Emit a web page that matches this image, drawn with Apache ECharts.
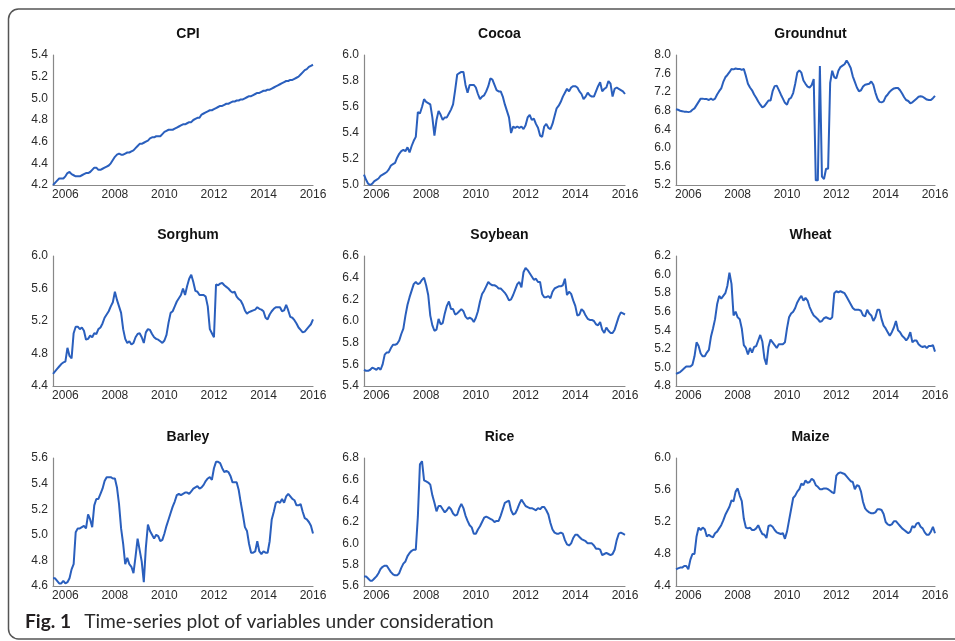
<!DOCTYPE html>
<html>
<head>
<meta charset="utf-8">
<script src="https://cdn.jsdelivr.net/npm/echarts@6/dist/echarts.min.js"></script>
<style>
  html, body { margin: 0; padding: 0; background: #fff; }
  #main { width: 955px; height: 641px; }
</style>
</head>
<body>
<div id="main"></div>
<script>
// monthly, 2005-07 .. 2016-01
var months = [];
for (var y = 2005; y <= 2016; y++) {
  for (var m = 1; m <= 12; m++) {
    if (y === 2005 && m < 7) continue;
    if (y === 2016 && m > 1) break;
    months.push(y + '-' + (m < 10 ? '0' + m : m));
  }
}

var cpi = [4.20,4.22,4.24,4.26,4.26,4.26,
  4.28,4.31,4.32,4.30,4.29,4.28,4.28,4.28,4.29,4.30,4.31,4.31,
  4.32,4.34,4.36,4.36,4.34,4.34,4.35,4.36,4.37,4.38,4.40,4.43,
  4.46,4.48,4.49,4.48,4.48,4.49,4.50,4.50,4.51,4.52,4.54,4.56,
  4.58,4.58,4.59,4.60,4.61,4.63,4.64,4.64,4.65,4.65,4.65,4.67,
  4.69,4.70,4.71,4.71,4.71,4.72,4.73,4.74,4.75,4.76,4.76,4.77,
  4.78,4.78,4.80,4.81,4.82,4.82,4.85,4.86,4.87,4.88,4.89,4.89,
  4.90,4.91,4.92,4.93,4.93,4.94,4.95,4.95,4.96,4.97,4.97,4.98,
  4.98,4.99,4.99,5.00,5.01,5.02,5.02,5.03,5.04,5.05,5.05,5.06,
  5.07,5.07,5.08,5.08,5.09,5.10,5.11,5.12,5.13,5.14,5.15,5.16,
  5.16,5.17,5.17,5.18,5.19,5.20,5.22,5.24,5.26,5.27,5.29,5.30,
  5.31];

var cocoa = [5.08,5.04,5.01,5.00,5.01,5.03,
  5.04,5.05,5.07,5.08,5.09,5.10,5.12,5.15,5.16,5.17,5.21,5.24,
  5.26,5.27,5.26,5.29,5.25,5.30,5.34,5.37,5.56,5.55,5.60,5.66,
  5.64,5.63,5.62,5.52,5.38,5.50,5.57,5.54,5.50,5.52,5.52,5.55,
  5.58,5.62,5.73,5.85,5.86,5.87,5.87,5.77,5.71,5.77,5.77,5.77,
  5.75,5.70,5.66,5.68,5.69,5.72,5.76,5.82,5.81,5.77,5.73,5.72,
  5.72,5.68,5.62,5.57,5.52,5.40,5.45,5.44,5.45,5.44,5.45,5.43,
  5.46,5.52,5.54,5.50,5.51,5.47,5.44,5.38,5.37,5.45,5.47,5.44,
  5.43,5.47,5.53,5.59,5.61,5.64,5.68,5.71,5.74,5.72,5.75,5.76,
  5.76,5.75,5.72,5.70,5.66,5.68,5.71,5.69,5.68,5.68,5.72,5.76,
  5.79,5.72,5.74,5.75,5.80,5.78,5.68,5.74,5.75,5.74,5.73,5.72,
  5.70];

var groundnut = [6.83,6.82,6.80,6.79,6.78,6.78,
  6.77,6.78,6.82,6.85,6.92,6.99,7.06,7.06,7.05,7.05,7.03,7.06,
  7.03,7.06,7.15,7.22,7.28,7.42,7.52,7.57,7.63,7.70,7.69,7.71,
  7.70,7.70,7.68,7.70,7.55,7.38,7.30,7.24,7.15,7.08,7.00,6.93,
  6.87,6.90,6.96,7.02,7.02,7.22,7.33,7.34,7.25,7.15,7.06,6.97,
  6.93,7.05,7.08,7.18,7.38,7.62,7.67,7.62,7.45,7.38,7.32,7.30,
  7.35,7.48,5.30,5.30,7.76,5.38,5.33,5.55,5.55,7.40,7.66,7.52,
  7.50,7.66,7.74,7.77,7.80,7.88,7.81,7.72,7.54,7.42,7.30,7.22,
  7.24,7.32,7.36,7.37,7.38,7.43,7.36,7.19,7.06,6.99,6.98,7.00,
  7.10,7.15,7.21,7.25,7.28,7.29,7.29,7.24,7.17,7.09,7.03,7.01,
  6.96,6.98,7.02,7.06,7.10,7.11,7.10,7.07,7.04,7.03,7.03,7.07,
  7.12];

var sorghum = [4.55,4.58,4.61,4.64,4.67,4.69,
  4.70,4.87,4.77,4.74,5.05,5.13,5.13,5.10,5.12,5.08,4.97,4.98,
  5.02,5.00,5.05,5.04,5.10,5.12,5.17,5.24,5.28,5.32,5.38,5.43,
  5.56,5.46,5.38,5.30,5.10,4.98,4.93,4.95,4.91,4.93,5.00,5.04,
  5.05,5.00,4.93,5.06,5.10,5.09,5.04,5.00,4.98,4.97,4.95,4.93,
  4.96,5.03,5.18,5.30,5.32,5.38,5.44,5.48,5.52,5.60,5.52,5.63,
  5.72,5.77,5.68,5.57,5.56,5.52,5.52,5.52,5.50,5.38,5.10,5.05,
  5.00,5.65,5.64,5.66,5.67,5.64,5.62,5.60,5.57,5.55,5.56,5.50,
  5.47,5.45,5.40,5.33,5.29,5.31,5.32,5.33,5.34,5.37,5.35,5.34,
  5.32,5.24,5.22,5.28,5.32,5.35,5.37,5.37,5.37,5.32,5.33,5.40,
  5.33,5.25,5.24,5.21,5.17,5.12,5.09,5.06,5.07,5.10,5.13,5.16,
  5.22];

var soybean = [5.55,5.54,5.54,5.55,5.57,5.56,
  5.55,5.57,5.55,5.60,5.69,5.71,5.71,5.75,5.78,5.78,5.79,5.82,
  5.88,5.93,6.05,6.15,6.22,6.28,6.34,6.36,6.34,6.35,6.38,6.40,
  6.33,6.24,6.05,5.96,5.91,5.92,6.02,5.97,5.98,6.07,6.14,6.18,
  6.11,6.11,6.06,6.07,6.09,6.11,6.09,6.04,6.02,6.03,6.02,5.99,
  6.03,6.09,6.18,6.25,6.28,6.32,6.36,6.34,6.33,6.33,6.32,6.30,
  6.30,6.28,6.26,6.23,6.19,6.20,6.24,6.29,6.34,6.36,6.31,6.45,
  6.49,6.47,6.44,6.41,6.38,6.39,6.36,6.36,6.25,6.22,6.22,6.23,
  6.21,6.27,6.30,6.31,6.32,6.32,6.33,6.39,6.24,6.27,6.25,6.19,
  6.14,6.05,6.06,6.11,6.09,6.05,6.02,6.01,6.01,6.00,5.97,5.96,
  5.99,5.92,5.89,5.94,5.91,5.89,5.89,5.92,5.98,6.04,6.08,6.07,
  6.06];

var wheat = [4.93,4.94,4.95,4.97,4.99,5.01,
  5.01,5.01,5.03,5.12,5.27,5.23,5.15,5.12,5.12,5.16,5.19,5.33,
  5.42,5.52,5.68,5.77,5.74,5.77,5.80,5.88,6.02,5.90,5.56,5.60,
  5.54,5.52,5.42,5.24,5.21,5.14,5.21,5.16,5.22,5.23,5.29,5.35,
  5.28,5.10,5.03,5.22,5.30,5.27,5.24,5.21,5.25,5.25,5.25,5.27,
  5.42,5.54,5.58,5.60,5.64,5.70,5.74,5.77,5.72,5.75,5.72,5.65,
  5.60,5.56,5.54,5.52,5.49,5.50,5.53,5.54,5.53,5.52,5.54,5.80,
  5.82,5.81,5.82,5.81,5.80,5.76,5.72,5.68,5.64,5.62,5.62,5.62,
  5.61,5.56,5.55,5.62,5.58,5.56,5.50,5.54,5.62,5.62,5.52,5.45,
  5.42,5.38,5.34,5.38,5.43,5.50,5.40,5.38,5.34,5.32,5.29,5.32,
  5.38,5.27,5.29,5.29,5.25,5.23,5.22,5.23,5.21,5.23,5.23,5.24,
  5.17];

var barley = [4.66,4.66,4.64,4.62,4.62,4.64,
  4.62,4.63,4.66,4.73,4.77,5.02,5.05,5.05,5.06,5.07,5.05,5.16,
  5.12,5.06,5.23,5.28,5.28,5.32,5.36,5.42,5.45,5.45,5.45,5.44,
  5.44,5.37,5.24,5.05,4.93,4.77,4.82,4.77,4.75,4.70,4.83,4.97,
  4.88,4.79,4.63,4.90,5.08,5.03,5.00,4.97,5.00,4.99,4.95,4.96,
  5.01,5.07,5.12,5.17,5.22,5.26,5.31,5.32,5.31,5.32,5.33,5.33,
  5.32,5.34,5.36,5.37,5.38,5.36,5.37,5.39,5.42,5.44,5.45,5.43,
  5.52,5.57,5.57,5.56,5.52,5.49,5.50,5.49,5.46,5.41,5.41,5.41,
  5.35,5.25,5.16,5.06,5.03,4.93,4.86,4.86,4.87,4.95,4.87,4.85,
  4.87,4.86,4.86,4.95,5.12,5.18,5.25,5.26,5.25,5.28,5.25,5.30,
  5.32,5.30,5.28,5.27,5.23,5.23,5.24,5.18,5.13,5.12,5.10,5.07,
  5.01];

var rice = [5.69,5.69,5.67,5.65,5.65,5.67,
  5.69,5.72,5.76,5.78,5.79,5.79,5.76,5.73,5.71,5.70,5.70,5.72,
  5.77,5.81,5.83,5.88,5.91,5.93,5.94,5.94,6.25,6.74,6.77,6.59,
  6.58,6.57,6.55,6.45,6.38,6.30,6.35,6.35,6.32,6.29,6.31,6.34,
  6.32,6.28,6.26,6.27,6.33,6.37,6.33,6.26,6.21,6.17,6.15,6.09,
  6.09,6.13,6.16,6.20,6.24,6.25,6.24,6.23,6.22,6.20,6.21,6.21,
  6.26,6.32,6.38,6.39,6.40,6.31,6.27,6.28,6.32,6.37,6.41,6.38,
  6.35,6.34,6.33,6.33,6.32,6.31,6.33,6.32,6.34,6.34,6.31,6.27,
  6.19,6.13,6.10,6.09,6.09,6.10,6.09,6.03,5.99,5.98,6.00,6.05,
  6.08,6.08,6.06,6.04,6.03,6.02,6.00,6.00,6.00,5.98,5.95,5.95,
  5.94,5.89,5.90,5.91,5.90,5.89,5.90,5.94,6.03,6.09,6.10,6.09,
  6.08];

var maize = [4.61,4.62,4.63,4.63,4.65,4.65,
  4.61,4.73,4.80,4.80,5.02,5.13,5.10,5.13,5.11,5.02,5.04,5.02,
  5.01,5.06,5.08,5.12,5.16,5.22,5.29,5.34,5.39,5.47,5.46,5.58,
  5.62,5.53,5.46,5.24,5.13,5.12,5.13,5.10,5.10,5.12,5.16,5.10,
  5.05,5.04,5.00,5.15,5.16,5.14,5.10,5.07,5.06,5.05,5.06,4.99,
  5.08,5.22,5.36,5.50,5.53,5.58,5.61,5.68,5.66,5.72,5.69,5.70,
  5.74,5.72,5.66,5.64,5.61,5.61,5.62,5.62,5.61,5.59,5.57,5.56,
  5.78,5.81,5.82,5.81,5.80,5.77,5.74,5.71,5.70,5.61,5.66,5.65,
  5.58,5.45,5.37,5.34,5.32,5.31,5.31,5.32,5.36,5.36,5.35,5.30,
  5.20,5.17,5.16,5.17,5.21,5.21,5.18,5.15,5.12,5.10,5.08,5.06,
  5.08,5.15,5.13,5.18,5.19,5.14,5.12,5.07,5.04,5.04,5.08,5.14,
  5.06];

// panel order: name, data, y min, y max, y step
var panels = [
  ['CPI', cpi, 4.2, 5.4, 0.2],
  ['Cocoa', cocoa, 5.0, 6.0, 0.2],
  ['Groundnut', groundnut, 5.2, 8.0, 0.4],
  ['Sorghum', sorghum, 4.4, 6.0, 0.4],
  ['Soybean', soybean, 5.4, 6.6, 0.2],
  ['Wheat', wheat, 4.8, 6.2, 0.2],
  ['Barley', barley, 4.6, 5.6, 0.2],
  ['Rice', rice, 5.6, 6.8, 0.2],
  ['Maize', maize, 4.4, 6.0, 0.4]
];

var colLeft = [53, 364, 676];
var colWidth = [260, 261, 259];
var rowTop = [55, 256, 458];
var rowHeight = [130, 130, 128];

var lineColor = '#2a5fbd';
var axisColor = '#888';
var labelFont = { color: '#2b2b2b', fontSize: 12, fontFamily: 'Liberation Sans, Arial, sans-serif' };

var grids = [], xAxes = [], yAxes = [], series = [], titles = [];

panels.forEach(function (p, k) {
  var r = Math.floor(k / 3), c = k % 3;
  grids.push({ left: colLeft[c], top: rowTop[r], width: colWidth[c], height: rowHeight[r] });
  titles.push({
    text: p[0],
    left: colLeft[c] + colWidth[c] / 2,
    top: rowTop[r] - 33,
    textAlign: 'center',
    textStyle: { fontSize: 14, fontWeight: 'bold', color: '#111', fontFamily: 'Liberation Sans, Arial, sans-serif' }
  });
  xAxes.push({
    type: 'category',
    gridIndex: k,
    data: months,
    boundaryGap: false,
    axisLine: { lineStyle: { color: axisColor, width: 1.2 } },
    axisTick: { show: false },
    splitLine: { show: false },
    axisLabel: Object.assign({
      margin: 4,
      // only January of even years
      interval: function (i, v) {
        var yy = +v.slice(0, 4);
        return v.slice(5) === '01' && yy % 2 === 0;
      },
      formatter: function (v) { return v.slice(0, 4); }
    }, labelFont)
  });
  yAxes.push({
    type: 'value',
    gridIndex: k,
    min: p[2],
    max: p[3],
    interval: p[4],
    axisLine: { show: true, lineStyle: { color: axisColor, width: 1.2 } },
    axisTick: { show: false },
    splitLine: { show: false },
    axisLabel: Object.assign({
      margin: 5,
      formatter: function (v) { return v.toFixed(1); }
    }, labelFont)
  });
  series.push({
    name: p[0],
    type: 'line',
    xAxisIndex: k,
    yAxisIndex: k,
    data: p[1],
    showSymbol: false,
    lineStyle: { color: lineColor, width: 2 },
    animation: false
  });
});

var chart = echarts.init(document.getElementById('main'), null, { renderer: 'canvas' });
chart.setOption({
  animation: false,
  backgroundColor: '#fff',
  title: titles,
  grid: grids,
  xAxis: xAxes,
  yAxis: yAxes,
  series: series,
  graphic: [
    {
      type: 'rect',
      shape: { x: 8.5, y: 9, width: 1000, height: 630, r: 10 },
      style: { fill: 'none', stroke: '#555', lineWidth: 1.5 },
      silent: true
    },
    {
      type: 'text',
      left: 25,
      top: 612,
      style: {
        text: '{b|Fig. 1}{t|Time-series plot of variables under consideration}',
        rich: {
          b: { fontSize: 19.2, fontWeight: 'bold', fill: '#231f20', padding: [0, 13, 0, 0], fontFamily: 'Lato, Open Sans, sans-serif' },
          t: { fontSize: 19.2, fill: '#2b2b2b', fontFamily: 'Lato, Open Sans, sans-serif' }
        }
      }
    }
  ]
});
</script>
</body>
</html>
